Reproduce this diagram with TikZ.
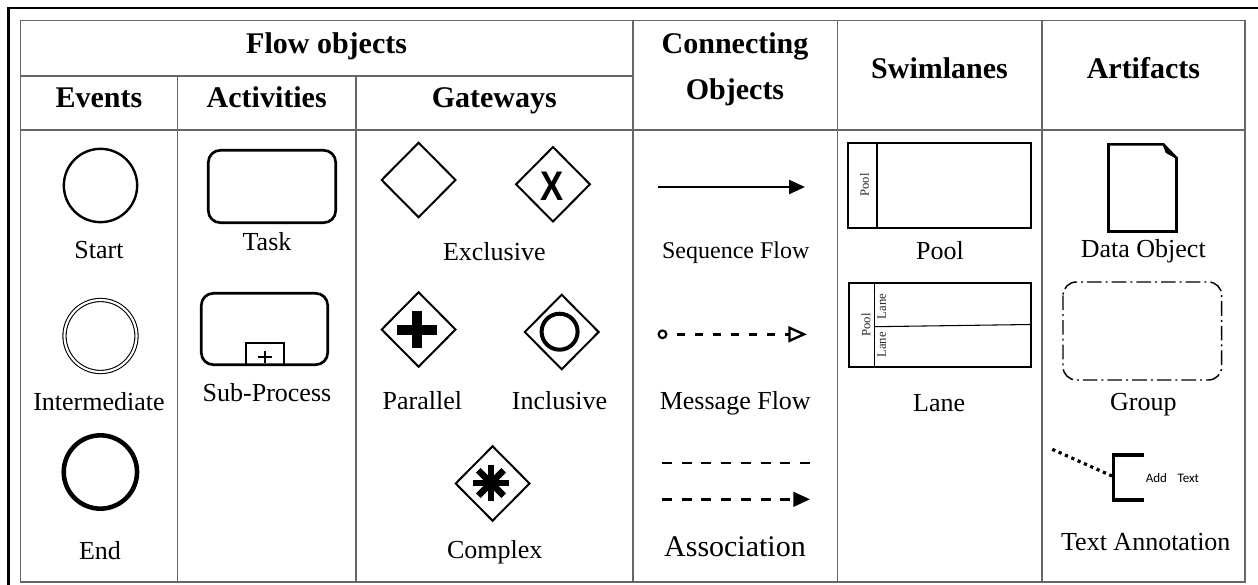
\documentclass[tikz,border=0pt]{standalone}
\usepackage{fontspec}
\setmainfont{Liberation Serif}
\newfontfamily\glyphfont{Liberation Sans}
\newfontfamily\notefont{Carlito}
\usetikzlibrary{shapes.geometric,arrows.meta}
\begin{document}
\begin{tikzpicture}[x=0.75pt,y=-0.75pt,
  gridline/.style={draw=black!60, line width=1.2pt},
  hdr/.style={anchor=base, inner sep=0pt, font=\fontsize{22.5}{27}\selectfont\bfseries},
  lbl/.style={anchor=base, inner sep=0pt, font=\fontsize{19.5}{23}\selectfont},
  evt/.style={circle, draw, inner sep=0pt, minimum size=55pt},
  gw/.style={diamond, draw, line width=1.5pt, inner sep=0pt, minimum width=56pt, minimum height=56.5pt},
  vtext/.style={rotate=90, inner sep=0pt, text=black!85, font=\fontsize{9.5}{10}\selectfont},
  lanebox/.style={draw, line width=1.9pt},
  thinrule/.style={draw, line width=0.8pt},
  assoc/.style={line width=1.8pt, dash pattern=on 7.5pt off 7.3pt},
]
\useasboundingbox (0,0) rectangle (1258,585);
\clip (0,0) rectangle (1258,585);
\fill[white] (0,0) rectangle (1258,585);

% page frame
\draw[line width=1.8pt] (8.3,600) -- (8.3,8.3) -- (1270,8.3);

% table grid
\draw[gridline] (20.5,20.7) rectangle (1245,581.7);
\draw[gridline] (20.5,76) -- (632.7,76);
\draw[gridline] (20.5,130) -- (1245,130);
\draw[gridline] (177.5,76) -- (177.5,581.7);
\draw[gridline] (356,76) -- (356,581.7);
\draw[gridline] (632.7,20.7) -- (632.7,581.7);
\draw[gridline] (837.3,20.7) -- (837.3,581.7);
\draw[gridline] (1041.7,20.7) -- (1041.7,581.7);

% headers
\node[hdr] (hFlow) at (326.6,53.5) {Flow objects};
\node[hdr] (hEvents) at (99,108) {Events};
\node[hdr] (hAct) at (266.7,108) {Activities};
\node[hdr] (hGate) at (494.3,108) {Gateways};
\node[hdr] (hConn1) at (735,54) {Connecting};
\node[hdr] (hConn2) at (735,99) {Objects};
\node[hdr] (hSwim) at (939.5,78.5) {Swimlanes};
\node[hdr] (hArt) at (1143.4,78.5) {Artifacts};

% events
\node[evt, line width=1.8pt] (evStart) at (100.5,185.5) {};
\node[evt, line width=0.8pt, double, double distance=1.6pt, minimum size=54pt] (evInter) at (100.5,336) {};
\node[evt, line width=3.4pt] (evEnd) at (100.4,472) {};
\node[lbl] (lStart) at (99,258.3) {Start};
\node[lbl] (lInter) at (99,410.5) {Intermediate};
\node[lbl] (lEnd) at (100,559.5) {End};

% activities
\draw[line width=2pt, rounded corners=9pt] (208.3,150.3) rectangle (335.7,222.7);
\draw[line width=2pt, rounded corners=9pt] (201.3,293.3) rectangle (327.7,364.7);
\draw[line width=1.4pt] (246,364.7) -- (246,343) -- (284,343) -- (284,364.7);
\draw[line width=0.8pt] (258,357) -- (272,357) (265,351) -- (265,363);
\node[lbl] (lTask) at (267,250) {Task};
\node[lbl] (lSub) at (267,401.7) {Sub-Process};

% gateways
\node[gw] (gPlain) at (418.6,180) {};
\node[gw] (gExcl) at (553,184.3) {};
\node[inner sep=0pt, font=\glyphfont\bfseries\fontsize{31}{31}\selectfont] (gExclMark) at (552.5,186.7) {\scalebox{0.84}[1]{X}};
\node[gw] (gPar) at (418.6,329.5) {};
\fill (396.5,324.5) rectangle (436.5,334.5);
\fill (411.5,311) rectangle (421.5,348);
\node[gw] (gIncl) at (561.7,332) {};
\node[circle, draw, line width=3pt, inner sep=0pt, minimum size=27pt] (gInclMark) at (559.6,331.7) {};
\node[gw] (gCplx) at (492.6,483.5) {};
\foreach \a in {0,45,90,135}
  \draw[line width=4.9pt] (491,483) ++(\a:18) -- ++(\a+180:36);
\node[lbl] (lExcl) at (494.3,260) {Exclusive};
\node[lbl] (lPar) at (422.4,409.5) {Parallel};
\node[lbl] (lIncl) at (559.6,409.5) {Inclusive};
\node[lbl] (lCplx) at (494.7,558.5) {Complex};

% connecting objects
\coordinate (seqA) at (658,187);
\coordinate (seqB) at (805,187);
\draw[line width=1.8pt, -{Triangle[length=12pt,width=10.5pt]}] (seqA) -- (seqB);
\node[lbl, font=\fontsize{18}{22}\selectfont] (lSeq) at (735.8,258) {Sequence Flow};

\node[circle, draw, line width=1.6pt, inner sep=0pt, minimum size=5.8pt] (msgA) at (662.5,334.3) {};
\coordinate (msgB) at (807,334.3);
\draw[line width=1.8pt, dash pattern=on 6pt off 7.5pt, dash phase=6pt,
      -{Triangle[open,length=14pt,width=12pt]}] (msgA.east) -- (msgB);
\node[lbl] (lMsg) at (735.3,409) {Message Flow};

\coordinate (asA) at (662,463);
\coordinate (asB) at (810,463);
\draw[assoc] (asA) -- (asB);
\coordinate (adA) at (662,499.3);
\coordinate (adB) at (810,499.3);
\draw[assoc, -{Triangle[length=12.5pt,width=11pt]}] (adA) -- (adB);
\node[lbl, font=\fontsize{22.5}{27}\selectfont] (lAssoc) at (735,556) {Association};

% swimlanes
\draw[lanebox] (848.2,143.2) rectangle (1030.8,227.8);
\draw[thinrule] (877,143.2) -- (877,227.8);
\node[vtext] (tPool1) at (864.5,185) {Pool};
\node[lbl] (lPool) at (940,259) {Pool};

\draw[lanebox] (849,283.2) rectangle (1030.8,367);
\draw[thinrule] (874.5,283.2) -- (874.5,367);
\draw[thinrule] (874.5,326.7) -- (1030.8,324.5);
\node[vtext] (tPool2) at (866,325) {Pool};
\node[vtext] (tLane1) at (881.7,306.5) {Lane};
\node[vtext] (tLane2) at (881.7,345) {Lane};
\node[lbl] (lLane) at (939.2,411.5) {Lane};

% artifacts
\draw[line width=1.9pt, line join=miter] (1108.5,144.3) -- (1163.3,144.3) -- (1176.5,158)
  -- (1176.5,231.5) -- (1108.5,231.5) -- cycle;
\filldraw[line width=1pt, line join=round] (1163.3,144.3) -- (1166.3,152.5) -- (1176.5,158) -- cycle;
\node[lbl] (lData) at (1143.3,257.7) {Data Object};

\draw[line width=1.1pt, rounded corners=10pt, dash pattern=on 11pt off 3pt on 1.5pt off 3pt]
  (1063,282) rectangle (1221.7,380);
\node[lbl] (lGroup) at (1143.3,410) {Group};

\coordinate (annFrom) at (1052.3,449.3);
\coordinate (annTo) at (1112,476);
\draw[line width=2.4pt, dash pattern=on 2.4pt off 2.8pt] (annFrom) -- (annTo);
\draw[line width=2.5pt] (1143.5,455) -- (1113.3,455) -- (1113.3,500) -- (1143.5,500);
\node[anchor=west, inner sep=0pt, font=\notefont\fontsize{9.75}{11}\selectfont] (tNote) at (1145.5,478) {Add\hspace{8pt}Text};
\node[lbl] (lAnnot) at (1145.8,550.7) {Text Annotation};
\end{tikzpicture}
\end{document}
